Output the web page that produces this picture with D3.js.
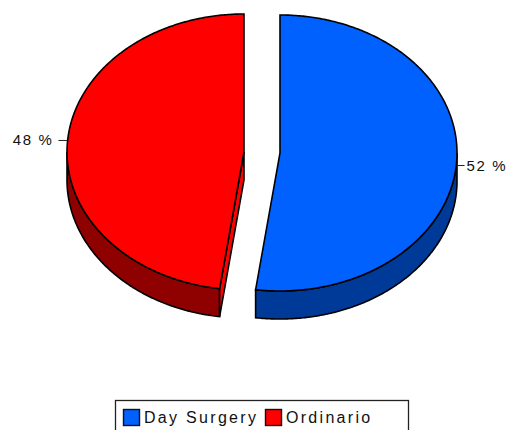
<!DOCTYPE html>
<html><head><meta charset="utf-8">
<script src="https://cdnjs.cloudflare.com/ajax/libs/d3/7.8.5/d3.min.js"></script>
<style>html,body{margin:0;padding:0;background:#fff}svg{display:block}text{font-family:"Liberation Sans",Arial,sans-serif;fill:#111}</style>
</head><body><svg id="c" width="510" height="430"></svg>
<script>
const categories = ["Day Surgery", "Ordinario"];
const values = [52.2, 47.8];
const tickLabels = ["52 %", "48 %"];
const topColors = ["#0061ff", "#ff0000"];
const sideColors = ["#003a99", "#8f0000"];

const W = 510, H = 430, rx = 177, ry = 138, depth = 28;
const centers = [[280, 153], [244, 152]];
const svg = d3.select("#c");
const pie = d3.pie().sort(null).value(d => d);
const arcs = pie(values);
const pt = (c, a, dy = 0) => [c[0] + rx * Math.sin(a), c[1] - ry * Math.cos(a) + dy];
const line = d3.line();
const stroke = "#000";

function sweep(c, a0, a1, dy) {
  const n = Math.max(2, Math.ceil(Math.abs(a1 - a0) / 0.01));
  return d3.range(n + 1).map(i => pt(c, a0 + (a1 - a0) * i / n, dy));
}

arcs.forEach((d, i) => {
  const c = centers[i];
  const g = svg.append("g");
  const s = Math.max(d.startAngle, Math.PI / 2), e = Math.min(d.endAngle, 3 * Math.PI / 2);
  const wall = sweep(c, s, e, 0).concat(sweep(c, e, s, depth));
  g.append("path").attr("d", line(wall) + "Z").attr("fill", sideColors[i]).attr("stroke", stroke).attr("stroke-width", 1.6);
  if (d.startAngle > Math.PI) {
    const p = pt(c, d.startAngle);
    const cut = [c, p, [p[0], p[1] + depth], [c[0], c[1] + depth]];
    g.append("path").attr("d", line(cut) + "Z").attr("fill", topColors[i]).attr("stroke", stroke).attr("stroke-width", 1.6);
  }
  const top = [c].concat(sweep(c, d.startAngle, d.endAngle, 0));
  g.append("path").attr("d", line(top) + "Z").attr("fill", topColors[i]).attr("stroke", stroke).attr("stroke-width", 1.6);
  const mid = (d.startAngle + d.endAngle) / 2;
  const p = pt(c, mid);
  const right = Math.sin(mid) > 0;
  const ty = p[1] + (right ? 3 : -2);
  g.append("line").attr("x1", right ? p[0] : p[0] - 9).attr("x2", right ? p[0] + 8 : p[0])
    .attr("y1", ty).attr("y2", ty).attr("stroke", "#222").attr("stroke-width", 1);
  g.append("text").attr("x", right ? p[0] + 10 : p[0] - 14).attr("y", ty + 5)
    .attr("text-anchor", right ? "start" : "end").attr("font-size", 15).attr("letter-spacing", 1.6)
    .text(tickLabels[i]);
});

const lg = svg.append("g");
lg.append("rect").attr("x", 115.5).attr("y", 400.5).attr("width", 293).attr("height", 40).attr("fill", "#fff").attr("stroke", "#222").attr("stroke-width", 1.3);
const swatchX = [123, 265], labelX = [144, 286];
categories.forEach((name, i) => {
  lg.append("rect").attr("x", swatchX[i] + .5).attr("y", 409.5).attr("width", 16).attr("height", 16)
    .attr("fill", topColors[i]).attr("stroke", "#111").attr("stroke-width", 1.4);
  lg.append("text").attr("x", labelX[i]).attr("y", 423).attr("font-size", 16).attr("letter-spacing", 2.3).text(name);
});
</script></body></html>
